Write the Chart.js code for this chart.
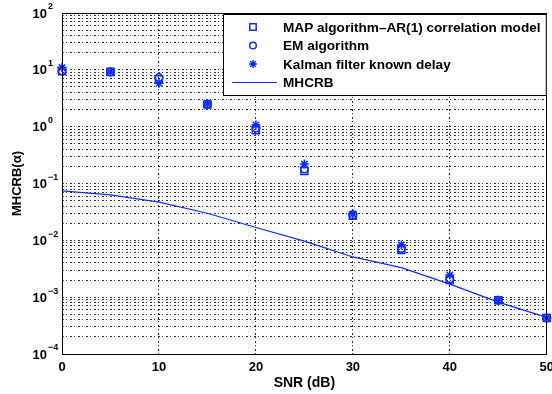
<!DOCTYPE html>
<html>
<head>
<meta charset="utf-8">
<script src="https://cdn.jsdelivr.net/npm/chart.js@4.4.1/dist/chart.umd.min.js"></script>
<style>
  html, body { margin: 0; padding: 0; background: #fff; overflow: hidden; }
  #wrap { position: relative; width: 560px; height: 394px; }
</style>
</head>
<body>
<div id="wrap"><canvas id="chart" width="560" height="394"></canvas></div>
<script>
  // values
  const snr = [0, 5, 10, 15, 20, 25, 30, 35, 40, 45, 50];
  const mapAr1 = [9.5, 9.2, 6.8, 2.45, 0.87, 0.166, 0.027, 0.0068, 0.0020, 0.00088, 0.00043];
  const emAlg = [9.6, 9.2, 7.3, 2.5, 0.95, 0.18, 0.028, 0.0072, 0.0021, 0.00088, 0.00043];
  const kalman = [11.0, 9.2, 5.8, 2.5, 1.07, 0.22, 0.029, 0.0083, 0.00245, 0.00088, 0.00043];
  const mhcrb = [0.074, 0.063, 0.047, 0.030, 0.0168, 0.0097, 0.0051, 0.0033, 0.0017, 0.00082, 0.00044];

  const xTicks = [0, 10, 20, 30, 40, 50];
  const yExponents = [-4, -3, -2, -1, 0, 1, 2];
  const legendLabels = ["MAP algorithm\u2013AR(1) correlation model", "EM algorithm", "Kalman filter known delay", "MHCRB"];

  const blue = "#0a2cff";
  const font = "'Liberation Sans', Arial, Helvetica, sans-serif";
  const gridDash = [2, 2, 1, 3];

  function points(values) {
    return snr.map((x, i) => ({ x: x, y: values[i] }));
  }

  // all 1..9 x 10^k grid positions, like matlab's minor grid
  function logTicks() {
    const out = [];
    for (let e = yExponents[0]; e < yExponents[yExponents.length - 1]; e++) {
      for (let s = 1; s < 10; s++) out.push({ value: s * Math.pow(10, e) });
    }
    out.push({ value: Math.pow(10, yExponents[yExponents.length - 1]) });
    return out;
  }

  const markers = [
    { style: "rect", radius: 5 },
    { style: "circle", radius: 3.8 },
    { style: "star", radius: 4.5 },
    { style: "line" }
  ];

  const framePlugin = {
    id: "frame",
    afterDraw(chart) {
      const ctx = chart.ctx;
      const a = chart.chartArea;
      const y = chart.scales.y;
      ctx.save();

      // box round the axes
      ctx.strokeStyle = "#000";
      ctx.lineWidth = 1;
      ctx.strokeRect(Math.round(a.left) + 0.5, Math.round(a.top) + 0.5, Math.round(a.right - a.left) - 1, Math.round(a.bottom - a.top));

      // 10^k labels
      ctx.fillStyle = "#000";
      ctx.textBaseline = "middle";
      yExponents.forEach((e) => {
        const py = y.getPixelForValue(Math.pow(10, e));
        ctx.font = "bold 13px " + font;
        ctx.textAlign = "right";
        ctx.fillText("10", 47, py + 1);
        ctx.font = "bold 9px " + font;
        ctx.textAlign = "left";
        ctx.fillText(e < 0 ? "\u2212" + Math.abs(e) : String(e), 48, py - 6);
      });

      // legend box
      const lx = 223, ly = 14, lw = a.right - 223, lh = 81;
      ctx.fillStyle = "#fff";
      ctx.fillRect(lx, ly, lw, lh);
      ctx.strokeStyle = "#000";
      ctx.strokeRect(lx + 0.5, ly + 0.5, lw - 1, lh);
      ctx.font = "bold 13.6px " + font;
      ctx.textAlign = "left";
      legendLabels.forEach((label, i) => {
        const ry = ly + 13 + i * 18.5;
        const m = markers[i];
        ctx.strokeStyle = blue;
        if (m.style === "line") {
          ctx.lineWidth = 1;
          ctx.beginPath();
          ctx.moveTo(232, ry);
          ctx.lineTo(277, ry);
          ctx.stroke();
        } else {
          ctx.lineWidth = 1.5;
          ctx.fillStyle = "rgba(0,0,0,0)";
          Chart.helpers.drawPoint(ctx, { pointStyle: m.style, radius: m.radius - 0.5, borderWidth: 1.5, rotation: 0 }, 253, ry);
        }
        ctx.fillStyle = "#000";
        ctx.fillText(label, 283, ry + 1);
      });
      ctx.restore();
    }
  };

  function markerSet(i, values) {
    return {
      label: legendLabels[i],
      data: points(values),
      pointStyle: markers[i].style,
      pointRadius: markers[i].radius,
      pointBorderWidth: 1.5,
      borderColor: blue,
      backgroundColor: "transparent",
      clip: false
    };
  }

  new Chart(document.getElementById("chart"), {
    type: "scatter",
    data: {
      datasets: [
        markerSet(0, mapAr1),
        markerSet(1, emAlg),
        markerSet(2, kalman),
        {
          label: legendLabels[3],
          data: points(mhcrb),
          showLine: true,
          tension: 0,
          pointRadius: 0,
          borderWidth: 1.2,
          borderColor: blue,
          backgroundColor: "transparent"
        }
      ]
    },
    options: {
      responsive: false,
      animation: false,
      devicePixelRatio: 1,
      layout: { padding: { left: 0, right: 13, top: 13, bottom: 0 } },
      plugins: {
        legend: { display: false },
        tooltip: { enabled: false }
      },
      scales: {
        x: {
          type: "linear",
          min: 0,
          max: 50,
          afterBuildTicks: (scale) => { scale.ticks = xTicks.map((v) => ({ value: v })); },
          afterFit: (scale) => { scale.height = 40; },
          grid: { color: "rgba(0,0,0,0.8)", lineWidth: 1, drawTicks: false },
          border: { display: false, dash: gridDash },
          ticks: {
            color: "#000",
            padding: 6,
            maxRotation: 0,
            font: { family: font, size: 13, weight: "bold" }
          },
          title: {
            display: true,
            text: "SNR (dB)",
            color: "#000",
            padding: { top: 0, bottom: 2 },
            font: { family: font, size: 14, weight: "bold" }
          }
        },
        y: {
          type: "logarithmic",
          min: 1e-4,
          max: 100,
          afterBuildTicks: (scale) => { scale.ticks = logTicks(); },
          afterFit: (scale) => { scale.width = 62; },
          grid: { color: "rgba(0,0,0,0.8)", lineWidth: 1, drawTicks: false },
          border: { display: false, dash: gridDash },
          ticks: {
            autoSkip: false,
            callback: () => ""
          },
          title: {
            display: true,
            text: "MHCRB(\u03b1)",
            color: "#000",
            padding: { top: 10, bottom: 0 },
            font: { family: font, size: 13, weight: "bold" }
          }
        }
      }
    },
    plugins: [framePlugin]
  });
</script>
</body>
</html>
